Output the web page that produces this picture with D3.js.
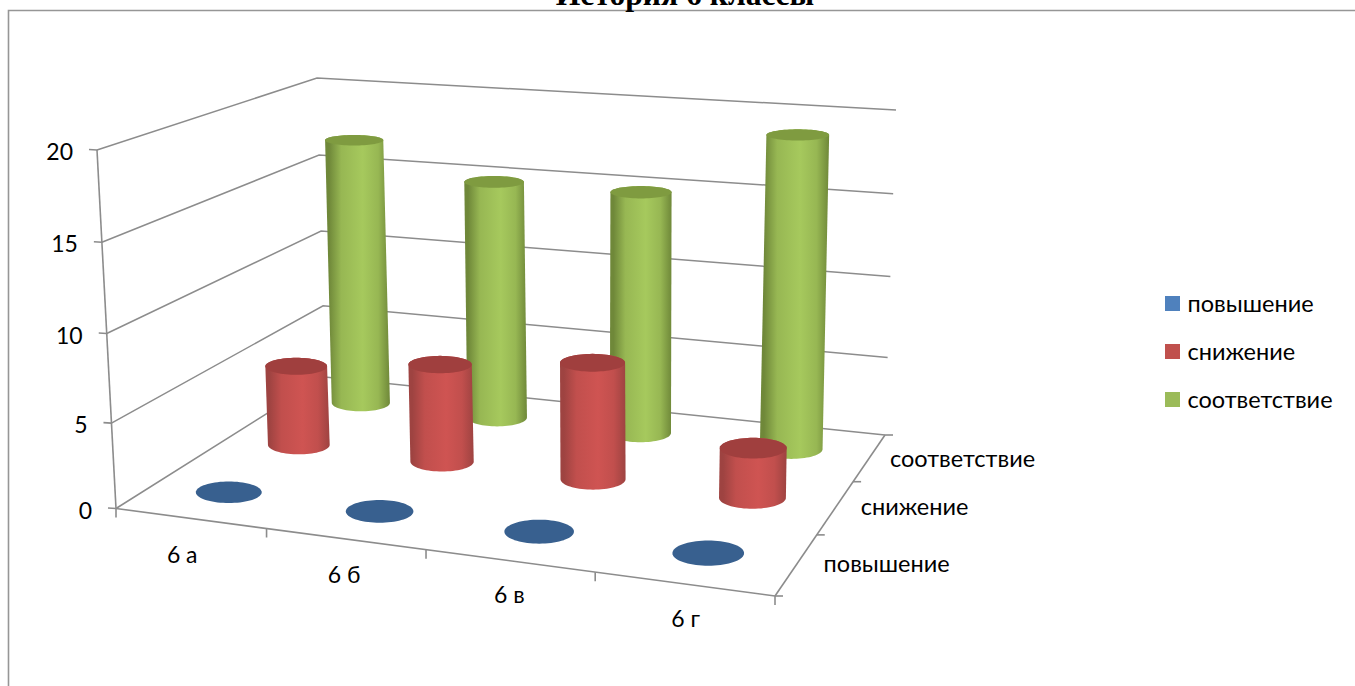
<!DOCTYPE html>
<html><head><meta charset="utf-8">
<script src="https://cdn.jsdelivr.net/npm/d3@7"></script>
<style>html,body{margin:0;background:#fff;overflow:hidden}svg{display:block}</style>
</head><body><script>
const titleText = "История 6 классы";
const categories = ["6 а","6 б","6 в","6 г"];
const seriesNames = ["повышение","снижение","соответствие"];
const valuesUp = [0,0,0,0];
const valuesDown = [5,6,7,3];
const valuesMatch = [17,15,15,19];
const valueTicks = [0,5,10,15,20];
const seriesValues = [valuesUp,valuesDown,valuesMatch];
const seriesStyle = [
  {flat:"#4f81bd",edge:"#2f5280",hi:"#4f81bd",cap:"#38608f"},
  {flat:"#c0504d",edge:"#9e4341",hi:"#cf5452",cap:"#a03f3e"},
  {flat:"#9bbb59",edge:"#6f8839",hi:"#a6c95d",cap:"#7f9b40"}];

const W=1355,H=686;
const svg=d3.select("body").append("svg").attr("width",W).attr("height",H);
const GRID="#8c8c8c";

const floorC={fl:[116,508.5],fr:[775,596],br:[885,435],bl:[325,377]};
const topC={fl:[97,150],fr:[782,200],br:[896,110],bl:[317,78]};
function homography(c){
  const [x0,y0]=c.fl,[x1,y1]=c.fr,[x2,y2]=c.br,[x3,y3]=c.bl;
  const dx1=x1-x2,dx2=x3-x2,sx=x0-x1+x2-x3,dy1=y1-y2,dy2=y3-y2,sy=y0-y1+y2-y3;
  const d=dx1*dy2-dx2*dy1;
  const g=(sx*dy2-dx2*sy)/d,h=(dx1*sy-sx*dy1)/d;
  const a=x1-x0+g*x1,b=x3-x0+h*x3,e=y1-y0+g*y1,f=y3-y0+h*y3;
  return (u,v)=>{const w=g*u+h*v+1;return [(a*u+b*v+x0)/w,(e*u+f*v+y0)/w,w];};
}
const floorH=homography(floorC),topH=homography(topC);
const uScale=d3.scaleBand().domain(categories).range([0,1]);
const vScale=d3.scaleBand().domain(seriesNames).range([0,1]);
const hScale=d3.scalePow().exponent(1.035).domain([0,20]).range([0,1]);
function project(u,v,val){
  const a=floorH(u,v),b=topH(u,v),t=hScale(val);
  return [a[0]+(b[0]-a[0])*t,a[1]+(b[1]-a[1])*t,a[2]];
}
const line=d3.line();
function seg(p,q,w=1.6,col=GRID){
  svg.append("path").attr("d",line([p,q])).attr("fill","none").attr("stroke",col).attr("stroke-width",w);
}
svg.append("path").attr("d","M8.5,686V10.5H1355").attr("fill","none").attr("stroke","#969696").attr("stroke-width",1.6);

svg.append("text").attr("x",685).attr("y",5).attr("text-anchor","middle")
  .attr("font-family","Liberation Serif").attr("font-weight","bold").attr("font-size",31.6).text(titleText);

valueTicks.forEach(t=>{
  const a=project(0,0,t),b=project(0,1,t),c=project(1,1,t);
  svg.append("path").attr("d",line([a,b,c])).attr("fill","none").attr("stroke",GRID).attr("stroke-width",1.5);
  seg([a[0]-8,a[1]-.5],a);
  svg.append("text").attr("x",a[0]-24).attr("y",a[1]+10).attr("text-anchor","end")
    .attr("font-family","Lato").attr("font-size",23).attr("fill","#000").text(t);
});
seg(project(0,0,0),project(0,0,20));
seg(project(0,0,0),project(1,0,0));
seg(project(1,0,0),project(1,1,0));
d3.range(categories.length+1).forEach(i=>{
  const p=project(i/categories.length,0,0);
  seg(p,[p[0],p[1]+9]);
});
d3.range(seriesNames.length+1).forEach(j=>{
  const p=project(1,j/seriesNames.length,0);
  seg(p,[p[0]+8,p[1]]);
});
const catOffsets=[[-8,45],[-1,44],[0,42],[2,43]];
categories.forEach((c,i)=>{
  const p=project(uScale(c)+uScale.bandwidth()/2,0,0);
  svg.append("text").attr("x",p[0]+catOffsets[i][0]).attr("y",p[1]+catOffsets[i][1]).attr("text-anchor","middle")
    .attr("font-family","Lato").attr("font-size",23).text(c);
});
const serOffsets=[[90,8],[79,8],[93,9]];
seriesNames.forEach((s,j)=>{
  const p=project(1,vScale(s)+vScale.bandwidth()/2,0);
  svg.append("text").attr("x",p[0]+serOffsets[j][0]).attr("y",p[1]+serOffsets[j][1]).attr("text-anchor","middle")
    .attr("font-family","Lato").attr("font-size",23.5).text(s);
});
const defs=svg.append("defs");
seriesStyle.forEach((st,j)=>{
  const g=defs.append("linearGradient").attr("id","g"+j).attr("x1",0).attr("x2",1).attr("y1",0).attr("y2",0);
  const mix=d3.interpolateRgb(st.edge,st.hi);
  [[0,st.edge],[.06,st.edge],[.25,mix(.72)],[.58,st.hi],[.82,mix(.72)],[1,st.edge]]
    .forEach(s=>g.append("stop").attr("offset",s[0]).attr("stop-color",s[1]));
});
function ellipsePts(c,rx,ry){
  return d3.range(0,72).map(k=>{const a=k/72*2*Math.PI;return [c[0]+rx*Math.cos(a),c[1]+ry*Math.sin(a)];});
}
const rOf=w=>33.5/w;
const aspect=y=>0.18+0.00042*(y-140);
[2,1,0].forEach(j=>{
  const s=seriesNames[j];
  categories.forEach((c,i)=>{
    const u=uScale(c)+uScale.bandwidth()/2,v=vScale(s)+vScale.bandwidth()/2,val=seriesValues[j][i];
    const b=project(u,v,0),t=project(u,v,val);
    const rx=rOf(b[2]);
    const eb=ellipsePts(b,rx,rx*aspect(b[1])),et=ellipsePts(t,rx,rx*aspect(t[1]));
    if(val>0){
      const hull=d3.polygonHull(eb.concat(et));
      svg.append("path").attr("class","bar").attr("d","M"+hull.join("L")+"Z").attr("fill",`url(#g${j})`);
    }
    svg.append("path").attr("class","cap").attr("d","M"+et.join("L")+"Z").attr("fill",seriesStyle[j].cap);
  });
});
const legY=d3.scalePoint().domain(seriesNames).range([303.5,399.5]);
seriesNames.forEach((s,j)=>{
  svg.append("rect").attr("x",1165).attr("y",legY(s)-7.5).attr("width",15).attr("height",15).attr("fill",seriesStyle[j].flat);
  svg.append("text").attr("x",1187.5).attr("y",legY(s)+8).attr("font-family","Lato").attr("font-size",23.5).text(s);
});
</script></body></html>
